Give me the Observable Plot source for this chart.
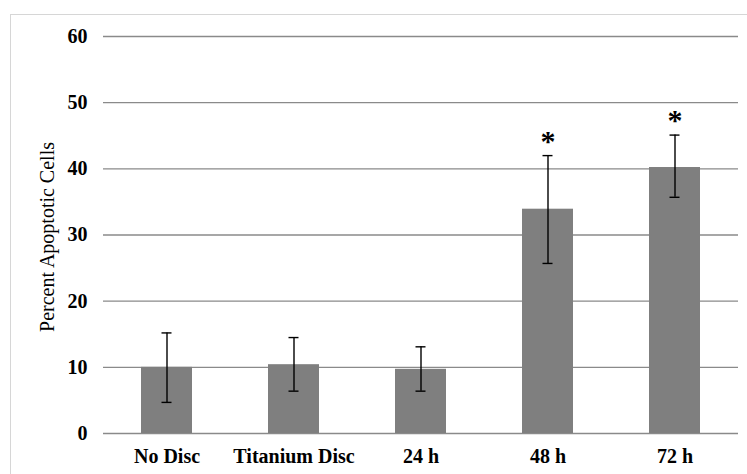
<!DOCTYPE html>
<html>
<head>
<meta charset="utf-8">
<script src="https://cdn.jsdelivr.net/npm/d3@7"></script>
<script src="https://cdn.jsdelivr.net/npm/@observablehq/plot@0.6"></script>
<style>
  html, body { margin: 0; padding: 0; background: #fff; }
  #wrap { position: relative; width: 747px; height: 474px; overflow: hidden; }
  #frame { position: absolute; left: 10px; top: 14px; width: 800px; height: 500px; border: 1px solid #d6d6d6; box-sizing: border-box; }
  #chart { position: absolute; left: 0; top: 0; }
</style>
</head>
<body>
<div id="wrap"><div id="frame"></div><div id="chart"></div></div>
<script>
const categories = ["No Disc", "Titanium Disc", "24 h", "48 h", "72 h"];
const means = [10.0, 10.4, 9.7, 33.9, 40.2];
const errLow = [4.7, 6.4, 6.4, 25.7, 35.7];
const errHigh = [15.2, 14.5, 13.1, 42.0, 45.1];
const marks = ["", "", "", "*", "*"];
const yTicks = [0, 10, 20, 30, 40, 50, 60];

const data = categories.map((c, i) => ({cat: c, mean: means[i], lo: errLow[i], hi: errHigh[i], mark: marks[i]}));
const serif = "'Liberation Serif', 'Times New Roman', serif";
const gridColor = "#8a8a8a";

const chart = Plot.plot({
  width: 747,
  height: 474,
  marginTop: 36,
  marginBottom: 41,
  marginLeft: 103,
  marginRight: 9,
  style: {fontFamily: serif, background: "transparent", color: "#000"},
  x: {domain: categories, paddingInner: 0.6, paddingOuter: 0.3, label: null},
  y: {domain: [0, 60], label: null},
  marks: [
    Plot.gridY(yTicks, {stroke: gridColor, strokeOpacity: 1, strokeWidth: 1.4}),
    Plot.ruleX([0], {frameAnchor: "left", stroke: gridColor, strokeWidth: 1.4}),
    Plot.barY(data, {x: "cat", y: "mean", fill: "#7f7f7f"}),
    Plot.ruleX(data, {x: "cat", y1: "lo", y2: "hi", stroke: "#000", strokeWidth: 1.4}),
    Plot.tickY(data, {x: "cat", y: "lo", stroke: "#000", strokeWidth: 1.4, insetLeft: 20.5, insetRight: 20.5}),
    Plot.tickY(data, {x: "cat", y: "hi", stroke: "#000", strokeWidth: 1.4, insetLeft: 20.5, insetRight: 20.5}),
    Plot.text(data, {x: "cat", y: "hi", text: "mark", dy: -5, fontSize: 30, fontWeight: "bold", lineAnchor: "bottom", fill: "#000"}),
    Plot.axisY(yTicks, {tickSize: 0, tickPadding: 16, fontSize: 20, fontWeight: "bold", label: null, fill: "#000"}),
    Plot.axisX({tickSize: 0, tickPadding: 15, fontSize: 20, fontWeight: "bold", label: null, fill: "#000"}),
    Plot.text(["Percent Apoptotic Cells"], {frameAnchor: "left", textAnchor: "middle", dx: -56, dy: 2, rotate: -90, fontSize: 20, fill: "#000"})
  ]
});
document.getElementById("chart").appendChild(chart);
</script>
</body>
</html>
